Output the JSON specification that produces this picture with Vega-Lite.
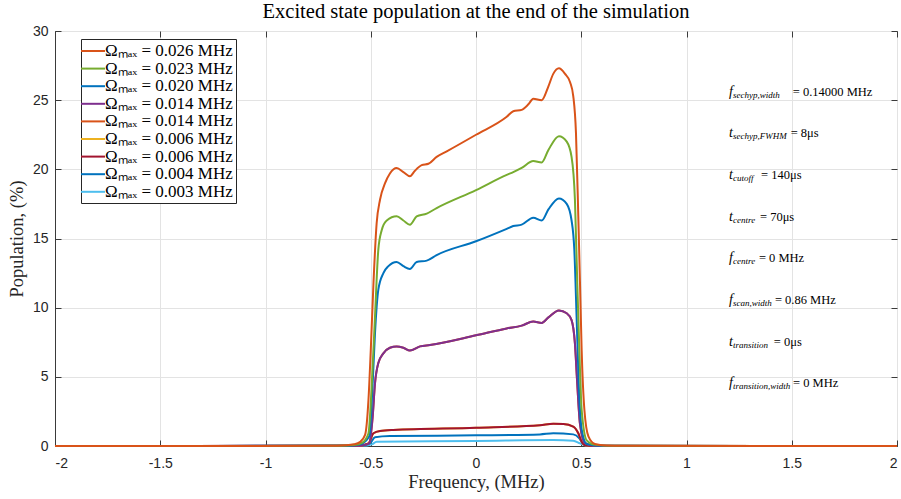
{
  "$schema": "https://vega.github.io/schema/vega-lite/v6.json",
  "width": 842,
  "height": 415,
  "autosize": {"type": "none"},
  "padding": {"left": 55, "top": 31, "right": 4, "bottom": 53},
  "background": "white",
  "title": {"text": "Excited state population at the end of the simulation", "font": "Liberation Serif", "fontSize": 20.5, "fontWeight": "normal", "color": "#000000", "offset": 2, "anchor": "middle"},
  "config": {
    "view": {"stroke": "#3a3a3a", "strokeWidth": 1},
    "axis": {
      "labelFont": "Liberation Sans", "labelFontSize": 14, "labelColor": "#262626",
      "titleFont": "Liberation Serif", "titleFontSize": 18.5, "titleFontWeight": "normal", "titleColor": "#262626",
      "tickColor": "#3a3a3a", "domainColor": "#3a3a3a", "gridColor": "#e3e3e3", "gridWidth": 1
    }
  },
  "datasets": {
    "curves": [
      {"s": "9 0.003", "f": -2, "p": 0}, {"s": "9 0.003", "f": -0.54, "p": 0.01}, {"s": "9 0.003", "f": -0.495, "p": 0.12}, {"s": "9 0.003", "f": -0.472, "p": 0.31}, {"s": "9 0.003", "f": 0, "p": 0.36}, {"s": "9 0.003", "f": 0.367, "p": 0.43}, {"s": "9 0.003", "f": 0.462, "p": 0.38}, {"s": "9 0.003", "f": 0.494, "p": 0.19}, {"s": "9 0.003", "f": 0.518, "p": 0.05}, {"s": "9 0.003", "f": 0.54, "p": 0}, {"s": "9 0.003", "f": 2, "p": 0},

      {"s": "8 0.004", "f": -2, "p": 0}, {"s": "8 0.004", "f": -0.55, "p": 0.01}, {"s": "8 0.004", "f": -0.504, "p": 0.19}, {"s": "8 0.004", "f": -0.48, "p": 0.63}, {"s": "8 0.004", "f": -0.409, "p": 0.72}, {"s": "8 0.004", "f": 0, "p": 0.77}, {"s": "8 0.004", "f": 0.304, "p": 0.84}, {"s": "8 0.004", "f": 0.367, "p": 0.92}, {"s": "8 0.004", "f": 0.462, "p": 0.84}, {"s": "8 0.004", "f": 0.491, "p": 0.55}, {"s": "8 0.004", "f": 0.51, "p": 0.12}, {"s": "8 0.004", "f": 0.54, "p": 0}, {"s": "8 0.004", "f": 2, "p": 0},

      {"s": "6 0.006", "f": -2, "p": 0}, {"s": "6 0.006", "f": -0.56, "p": 0.01}, {"s": "6 0.006", "f": -0.511, "p": 0.19}, {"s": "6 0.006", "f": -0.487, "p": 0.92}, {"s": "6 0.006", "f": -0.456, "p": 1.08}, {"s": "6 0.006", "f": -0.393, "p": 1.16}, {"s": "6 0.006", "f": 0, "p": 1.32}, {"s": "6 0.006", "f": 0.304, "p": 1.5}, {"s": "6 0.006", "f": 0.367, "p": 1.61}, {"s": "6 0.006", "f": 0.415, "p": 1.59}, {"s": "6 0.006", "f": 0.462, "p": 1.4}, {"s": "6 0.006", "f": 0.486, "p": 0.92}, {"s": "6 0.006", "f": 0.502, "p": 0.31}, {"s": "6 0.006", "f": 0.518, "p": 0.05}, {"s": "6 0.006", "f": 0.55, "p": 0}, {"s": "6 0.006", "f": 2, "p": 0},

      {"s": "7 0.006", "f": -2, "p": 0}, {"s": "7 0.006", "f": -0.56, "p": 0.01}, {"s": "7 0.006", "f": -0.511, "p": 0.19}, {"s": "7 0.006", "f": -0.487, "p": 0.92}, {"s": "7 0.006", "f": -0.456, "p": 1.08}, {"s": "7 0.006", "f": -0.393, "p": 1.16}, {"s": "7 0.006", "f": 0, "p": 1.32}, {"s": "7 0.006", "f": 0.304, "p": 1.5}, {"s": "7 0.006", "f": 0.367, "p": 1.61}, {"s": "7 0.006", "f": 0.415, "p": 1.59}, {"s": "7 0.006", "f": 0.462, "p": 1.4}, {"s": "7 0.006", "f": 0.486, "p": 0.92}, {"s": "7 0.006", "f": 0.502, "p": 0.31}, {"s": "7 0.006", "f": 0.518, "p": 0.05}, {"s": "7 0.006", "f": 0.55, "p": 0}, {"s": "7 0.006", "f": 2, "p": 0},

      {"s": "5 0.014", "f": -2, "p": 0}, {"s": "5 0.014", "f": -0.58, "p": 0.02}, {"s": "5 0.014", "f": -0.53, "p": 0.08}, {"s": "5 0.014", "f": -0.507, "p": 0.2}, {"s": "5 0.014", "f": -0.491, "p": 2.1}, {"s": "5 0.014", "f": -0.48, "p": 4.5}, {"s": "5 0.014", "f": -0.464, "p": 6.0}, {"s": "5 0.014", "f": -0.44, "p": 6.7}, {"s": "5 0.014", "f": -0.409, "p": 7.1}, {"s": "5 0.014", "f": -0.377, "p": 7.2}, {"s": "5 0.014", "f": -0.345, "p": 7.1}, {"s": "5 0.014", "f": -0.314, "p": 6.9}, {"s": "5 0.014", "f": -0.266, "p": 7.2}, {"s": "5 0.014", "f": -0.219, "p": 7.3}, {"s": "5 0.014", "f": 0, "p": 8.0}, {"s": "5 0.014", "f": 0.146, "p": 8.5}, {"s": "5 0.014", "f": 0.217, "p": 8.7}, {"s": "5 0.014", "f": 0.272, "p": 9.0}, {"s": "5 0.014", "f": 0.312, "p": 8.9}, {"s": "5 0.014", "f": 0.344, "p": 9.3}, {"s": "5 0.014", "f": 0.394, "p": 9.8}, {"s": "5 0.014", "f": 0.431, "p": 9.6}, {"s": "5 0.014", "f": 0.454, "p": 9.1}, {"s": "5 0.014", "f": 0.47, "p": 7.4}, {"s": "5 0.014", "f": 0.481, "p": 4.5}, {"s": "5 0.014", "f": 0.494, "p": 1.6}, {"s": "5 0.014", "f": 0.518, "p": 0.2}, {"s": "5 0.014", "f": 0.56, "p": 0.02}, {"s": "5 0.014", "f": 2, "p": 0},

      {"s": "4 0.014", "f": -2, "p": 0}, {"s": "4 0.014", "f": -0.58, "p": 0.02}, {"s": "4 0.014", "f": -0.53, "p": 0.08}, {"s": "4 0.014", "f": -0.507, "p": 0.2}, {"s": "4 0.014", "f": -0.491, "p": 2.1}, {"s": "4 0.014", "f": -0.48, "p": 4.5}, {"s": "4 0.014", "f": -0.464, "p": 6.0}, {"s": "4 0.014", "f": -0.44, "p": 6.7}, {"s": "4 0.014", "f": -0.409, "p": 7.1}, {"s": "4 0.014", "f": -0.377, "p": 7.2}, {"s": "4 0.014", "f": -0.345, "p": 7.1}, {"s": "4 0.014", "f": -0.314, "p": 6.9}, {"s": "4 0.014", "f": -0.266, "p": 7.2}, {"s": "4 0.014", "f": -0.219, "p": 7.3}, {"s": "4 0.014", "f": 0, "p": 8.0}, {"s": "4 0.014", "f": 0.146, "p": 8.5}, {"s": "4 0.014", "f": 0.217, "p": 8.7}, {"s": "4 0.014", "f": 0.272, "p": 9.0}, {"s": "4 0.014", "f": 0.312, "p": 8.9}, {"s": "4 0.014", "f": 0.344, "p": 9.3}, {"s": "4 0.014", "f": 0.394, "p": 9.8}, {"s": "4 0.014", "f": 0.431, "p": 9.6}, {"s": "4 0.014", "f": 0.454, "p": 9.1}, {"s": "4 0.014", "f": 0.47, "p": 7.4}, {"s": "4 0.014", "f": 0.481, "p": 4.5}, {"s": "4 0.014", "f": 0.494, "p": 1.6}, {"s": "4 0.014", "f": 0.518, "p": 0.2}, {"s": "4 0.014", "f": 0.56, "p": 0.02}, {"s": "4 0.014", "f": 2, "p": 0},

      {"s": "3 0.020", "f": -2, "p": 0}, {"s": "3 0.020", "f": -0.6, "p": 0.02}, {"s": "3 0.020", "f": -0.55, "p": 0.12}, {"s": "3 0.020", "f": -0.507, "p": 0.7}, {"s": "3 0.020", "f": -0.491, "p": 4.5}, {"s": "3 0.020", "f": -0.48, "p": 8.1}, {"s": "3 0.020", "f": -0.464, "p": 11.3}, {"s": "3 0.020", "f": -0.44, "p": 12.5}, {"s": "3 0.020", "f": -0.416, "p": 13.0}, {"s": "3 0.020", "f": -0.377, "p": 13.3}, {"s": "3 0.020", "f": -0.345, "p": 13.0}, {"s": "3 0.020", "f": -0.314, "p": 12.8}, {"s": "3 0.020", "f": -0.282, "p": 13.3}, {"s": "3 0.020", "f": -0.234, "p": 13.4}, {"s": "3 0.020", "f": -0.187, "p": 13.8}, {"s": "3 0.020", "f": 0, "p": 14.8}, {"s": "3 0.020", "f": 0.146, "p": 15.7}, {"s": "3 0.020", "f": 0.177, "p": 15.9}, {"s": "3 0.020", "f": 0.217, "p": 16.0}, {"s": "3 0.020", "f": 0.272, "p": 16.5}, {"s": "3 0.020", "f": 0.312, "p": 16.3}, {"s": "3 0.020", "f": 0.344, "p": 17.1}, {"s": "3 0.020", "f": 0.394, "p": 17.9}, {"s": "3 0.020", "f": 0.431, "p": 17.5}, {"s": "3 0.020", "f": 0.454, "p": 16.3}, {"s": "3 0.020", "f": 0.467, "p": 14.2}, {"s": "3 0.020", "f": 0.478, "p": 9.3}, {"s": "3 0.020", "f": 0.488, "p": 4.5}, {"s": "3 0.020", "f": 0.502, "p": 1.2}, {"s": "3 0.020", "f": 0.526, "p": 0.15}, {"s": "3 0.020", "f": 0.6, "p": 0.01}, {"s": "3 0.020", "f": 2, "p": 0},

      {"s": "2 0.023", "f": -2, "p": 0}, {"s": "2 0.023", "f": -0.65, "p": 0.01}, {"s": "2 0.023", "f": -0.58, "p": 0.07}, {"s": "2 0.023", "f": -0.54, "p": 0.25}, {"s": "2 0.023", "f": -0.511, "p": 0.9}, {"s": "2 0.023", "f": -0.495, "p": 4.5}, {"s": "2 0.023", "f": -0.48, "p": 9.3}, {"s": "2 0.023", "f": -0.464, "p": 14.2}, {"s": "2 0.023", "f": -0.448, "p": 15.6}, {"s": "2 0.023", "f": -0.424, "p": 16.3}, {"s": "2 0.023", "f": -0.377, "p": 16.6}, {"s": "2 0.023", "f": -0.345, "p": 16.3}, {"s": "2 0.023", "f": -0.314, "p": 16.0}, {"s": "2 0.023", "f": -0.282, "p": 16.6}, {"s": "2 0.023", "f": -0.234, "p": 16.8}, {"s": "2 0.023", "f": -0.187, "p": 17.2}, {"s": "2 0.023", "f": 0, "p": 18.5}, {"s": "2 0.023", "f": 0.146, "p": 19.6}, {"s": "2 0.023", "f": 0.177, "p": 19.8}, {"s": "2 0.023", "f": 0.217, "p": 20.1}, {"s": "2 0.023", "f": 0.272, "p": 20.6}, {"s": "2 0.023", "f": 0.312, "p": 20.5}, {"s": "2 0.023", "f": 0.344, "p": 21.4}, {"s": "2 0.023", "f": 0.394, "p": 22.4}, {"s": "2 0.023", "f": 0.431, "p": 22.0}, {"s": "2 0.023", "f": 0.454, "p": 20.9}, {"s": "2 0.023", "f": 0.47, "p": 17.8}, {"s": "2 0.023", "f": 0.481, "p": 11.8}, {"s": "2 0.023", "f": 0.491, "p": 6.9}, {"s": "2 0.023", "f": 0.502, "p": 2.6}, {"s": "2 0.023", "f": 0.526, "p": 0.4}, {"s": "2 0.023", "f": 0.56, "p": 0.1}, {"s": "2 0.023", "f": 0.65, "p": 0.01}, {"s": "2 0.023", "f": 2, "p": 0},

      {"s": "1 0.026", "f": -2, "p": 0}, {"s": "1 0.026", "f": -0.7, "p": 0.01}, {"s": "1 0.026", "f": -0.62, "p": 0.05}, {"s": "1 0.026", "f": -0.58, "p": 0.12}, {"s": "1 0.026", "f": -0.55, "p": 0.3}, {"s": "1 0.026", "f": -0.527, "p": 0.8}, {"s": "1 0.026", "f": -0.511, "p": 3.3}, {"s": "1 0.026", "f": -0.5, "p": 6.9}, {"s": "1 0.026", "f": -0.487, "p": 11.8}, {"s": "1 0.026", "f": -0.472, "p": 16.1}, {"s": "1 0.026", "f": -0.456, "p": 17.8}, {"s": "1 0.026", "f": -0.432, "p": 19.0}, {"s": "1 0.026", "f": -0.409, "p": 19.7}, {"s": "1 0.026", "f": -0.377, "p": 20.1}, {"s": "1 0.026", "f": -0.345, "p": 19.8}, {"s": "1 0.026", "f": -0.314, "p": 19.5}, {"s": "1 0.026", "f": -0.29, "p": 19.9}, {"s": "1 0.026", "f": -0.258, "p": 20.3}, {"s": "1 0.026", "f": -0.226, "p": 20.4}, {"s": "1 0.026", "f": -0.187, "p": 20.9}, {"s": "1 0.026", "f": -0.139, "p": 21.3}, {"s": "1 0.026", "f": 0, "p": 22.5}, {"s": "1 0.026", "f": 0.146, "p": 23.8}, {"s": "1 0.026", "f": 0.177, "p": 24.2}, {"s": "1 0.026", "f": 0.217, "p": 24.3}, {"s": "1 0.026", "f": 0.249, "p": 24.7}, {"s": "1 0.026", "f": 0.272, "p": 25.1}, {"s": "1 0.026", "f": 0.312, "p": 25.0}, {"s": "1 0.026", "f": 0.344, "p": 26.0}, {"s": "1 0.026", "f": 0.367, "p": 26.9}, {"s": "1 0.026", "f": 0.394, "p": 27.3}, {"s": "1 0.026", "f": 0.423, "p": 26.9}, {"s": "1 0.026", "f": 0.447, "p": 26.3}, {"s": "1 0.026", "f": 0.462, "p": 25.3}, {"s": "1 0.026", "f": 0.475, "p": 22.6}, {"s": "1 0.026", "f": 0.486, "p": 16.6}, {"s": "1 0.026", "f": 0.494, "p": 11.8}, {"s": "1 0.026", "f": 0.502, "p": 6.9}, {"s": "1 0.026", "f": 0.515, "p": 2.6}, {"s": "1 0.026", "f": 0.534, "p": 0.7}, {"s": "1 0.026", "f": 0.565, "p": 0.15}, {"s": "1 0.026", "f": 0.62, "p": 0.04}, {"s": "1 0.026", "f": 0.7, "p": 0.01}, {"s": "1 0.026", "f": 2, "p": 0}
    ],
    "ann": [
      {"v": "f", "sub": "sechyp,width", "rest": "= 0.14000 MHz", "y": 25.62, "xe": 1.505},
      {"v": "t", "sub": "sechyp,FWHM", "rest": "= 8μs", "y": 22.61, "xe": 1.495},
      {"v": "t", "sub": "cutoff", "rest": "= 140μs", "y": 19.6, "xe": 1.354},
      {"v": "t", "sub": "centre", "rest": "= 70μs", "y": 16.58, "xe": 1.349},
      {"v": "f", "sub": "centre", "rest": "= 0 MHz", "y": 13.57, "xe": 1.344},
      {"v": "f", "sub": "scan,width", "rest": "= 0.86 MHz", "y": 10.56, "xe": 1.42},
      {"v": "t", "sub": "transition", "rest": "= 0μs", "y": 7.54, "xe": 1.415},
      {"v": "f", "sub": "transition,width", "rest": "= 0 MHz", "y": 4.53, "xe": 1.506}
    ]
  },
  "resolve": {"axis": {"x": "independent", "y": "independent"}},
  "layer": [
    {
      "data": {"name": "curves"},
      "mark": {"type": "line", "strokeWidth": 2, "interpolate": "monotone"},
      "encoding": {
        "x": {"field": "f", "type": "quantitative", "scale": {"domain": [-2, 2], "nice": false, "zero": false},
          "axis": {"orient": "bottom", "values": [-2, -1.5, -1, -0.5, 0, 0.5, 1, 1.5, 2], "labelExpr": "'' + datum.value", "title": "Frequency, (MHz)", "tickSize": -6, "labelPadding": 16, "titlePadding": 2, "grid": true, "domain": true}},
        "y": {"field": "p", "type": "quantitative", "scale": {"domain": [0, 30], "nice": false},
          "axis": {"orient": "left", "values": [0, 5, 10, 15, 20, 25, 30], "title": "Population, (%)", "tickSize": -6, "labelPadding": 13, "titlePadding": 6, "grid": true, "domain": true}},
        "color": {"field": "s", "type": "nominal",
          "scale": {"domain": ["1 0.026", "2 0.023", "3 0.020", "4 0.014", "5 0.014", "6 0.006", "7 0.006", "8 0.004", "9 0.003"],
            "range": ["#D95319", "#77AC30", "#0072BD", "#7E2F8E", "#D95319", "#EDB120", "#A2142F", "#0072BD", "#4DBEEE"]},
          "legend": {"orient": "none", "legendX": 26, "legendY": 8, "title": null, "direction": "vertical",
            "strokeColor": "#262626", "fillColor": "white", "padding": 3, "rowPadding": 0.6,
            "labelFont": "Liberation Serif", "labelFontSize": 17, "labelColor": "#000000", "labelOffset": 3,
            "symbolType": "M-1.5,0H1.5", "symbolSize": 256, "symbolStrokeWidth": 2,
            "labelExpr": "'Ωₘₐₓ = ' + substring(datum.label, 2) + ' MHz\u00a0\u00a0\u00a0'"}}
      }
    },
    {
      "data": {"name": "ann"},
      "mark": {"type": "text", "font": "Liberation Serif", "fontStyle": "italic", "fontSize": 14, "align": "left", "baseline": "middle", "color": "#000000"},
      "encoding": {
        "x": {"datum": 1.202, "type": "quantitative", "axis": {"orient": "top", "values": [-2, -1.5, -1, -0.5, 0, 0.5, 1, 1.5, 2], "labels": false, "title": null, "tickSize": -6, "grid": false, "domain": false}},
        "y": {"field": "y", "type": "quantitative", "axis": {"orient": "right", "values": [0, 5, 10, 15, 20, 25, 30], "labels": false, "title": null, "tickSize": -6, "grid": false, "domain": false}},
        "text": {"field": "v"}
      }
    },
    {
      "data": {"name": "ann"},
      "mark": {"type": "text", "font": "Liberation Serif", "fontStyle": "italic", "fontSize": 9, "align": "left", "baseline": "middle", "dx": 4, "dy": 3, "color": "#000000"},
      "encoding": {
        "x": {"datum": 1.202, "type": "quantitative", "axis": null},
        "y": {"field": "y", "type": "quantitative", "axis": null},
        "text": {"field": "sub"}
      }
    },
    {
      "data": {"name": "ann"},
      "mark": {"type": "text", "font": "Liberation Serif", "fontSize": 12.5, "align": "left", "baseline": "middle", "color": "#000000"},
      "encoding": {
        "x": {"field": "xe", "type": "quantitative", "axis": null},
        "y": {"field": "y", "type": "quantitative", "axis": null},
        "text": {"field": "rest"}
      }
    }
  ]
}
